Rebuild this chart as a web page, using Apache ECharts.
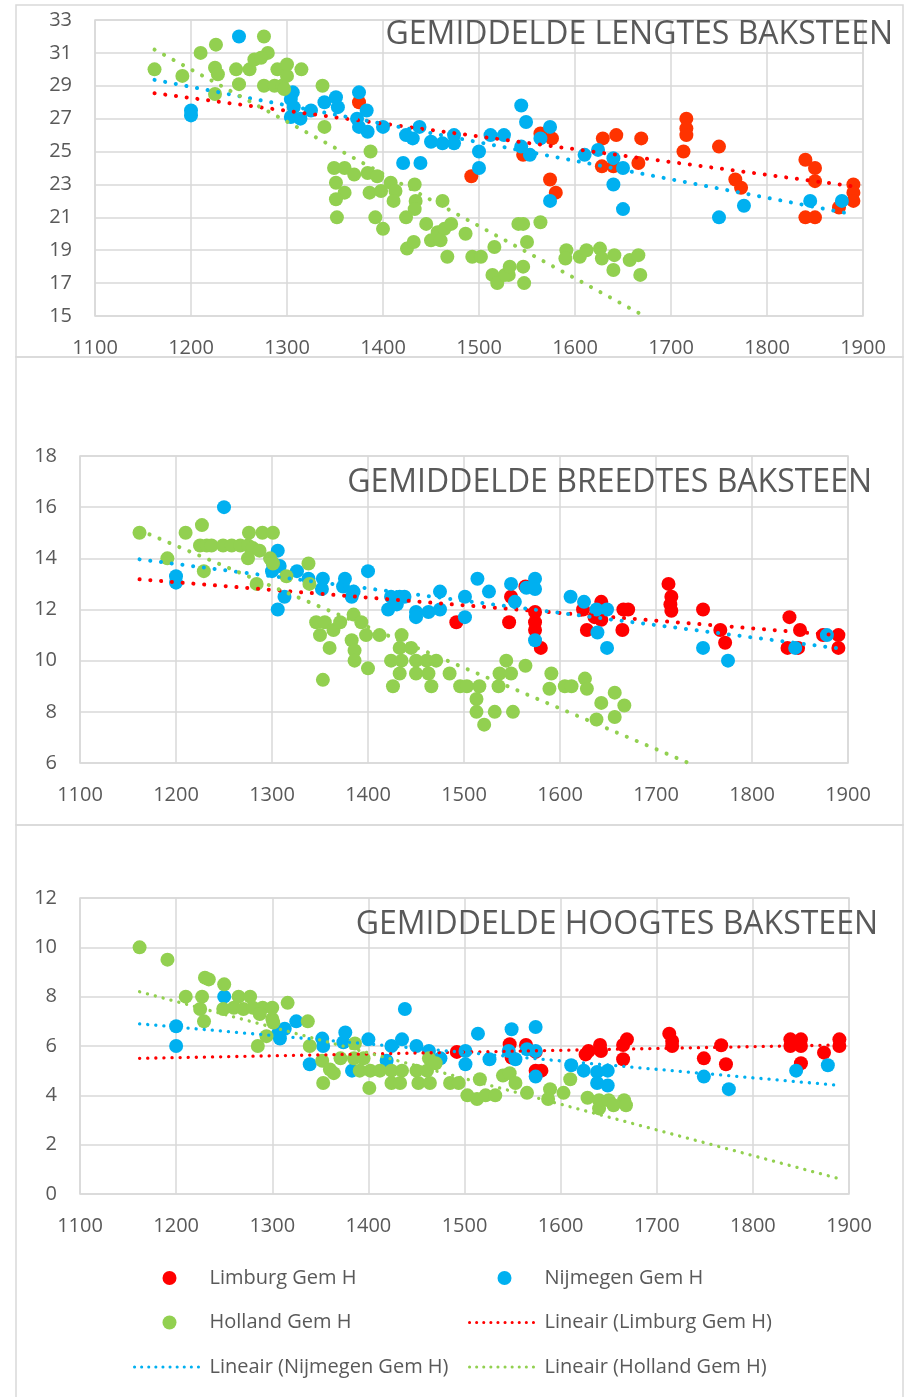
<!DOCTYPE html>
<html>
<head>
<meta charset="utf-8">
<script src="https://cdn.jsdelivr.net/npm/echarts@6/dist/echarts.min.js"></script>
<style>
  html, body { margin: 0; padding: 0; background: #ffffff; }
  #chart { width: 908px; height: 1397px; }
</style>
</head>
<body>
<div id="chart"></div>
<script>
// ---- Axis ticks ----
const jaarTicks = [1100, 1200, 1300, 1400, 1500, 1600, 1700, 1800, 1900];
const lengteTicks = [15, 17, 19, 21, 23, 25, 27, 29, 31, 33];
const breedteTicks = [6, 8, 10, 12, 14, 16, 18];
const hoogteTicks = [0, 2, 4, 6, 8, 10, 12];

// ---- Titles ----
const titelLengte = 'GEMIDDELDE LENGTES BAKSTEEN';
const titelBreedte = 'GEMIDDELDE BREEDTES BAKSTEEN';
const titelHoogte = 'GEMIDDELDE HOOGTES BAKSTEEN';

// ---- Series names ----
const naamLimburg = 'Limburg Gem H';
const naamNijmegen = 'Nijmegen Gem H';
const naamHolland = 'Holland Gem H';
const naamTrendLimburg = 'Lineair (Limburg Gem H)';
const naamTrendNijmegen = 'Lineair (Nijmegen Gem H)';
const naamTrendHolland = 'Lineair (Holland Gem H)';

// ---- Lengtes [jaar, cm] ----
const lengteLimburg = [[1375,28.0],[1492,23.5],[1546,24.8],[1564,26.1],[1576,25.8],[1574,23.3],[1580,22.5],[1629,25.8],[1643,26.0],[1669,25.8],[1628,24.1],[1640,24.1],[1666,24.3],[1716,27.0],[1716,26.4],[1716,26.0],[1713,25.0],[1750,25.3],[1767,23.3],[1773,22.8],[1840,24.5],[1850,24.0],[1850,23.2],[1840,21.0],[1850,21.0],[1875,21.6],[1890,23.0],[1890,22.5],[1890,22.0]];
const lengteNijmegen = [[1250,32.0],[1200,27.5],[1200,27.2],[1306,28.6],[1304,28.2],[1307,27.7],[1304,27.1],[1314,27.0],[1325,27.5],[1339,28.0],[1351,28.3],[1353,27.7],[1375,28.6],[1383,27.5],[1373,27.0],[1375,26.5],[1384,26.2],[1400,26.5],[1424,26.0],[1431,25.8],[1438,26.5],[1450,25.6],[1462,25.5],[1474,26.0],[1474,25.5],[1421,24.3],[1439,24.3],[1500,25.0],[1500,24.0],[1512,26.0],[1526,26.0],[1544,27.8],[1549,26.8],[1574,26.5],[1564,25.8],[1544,25.3],[1553,24.8],[1610,24.8],[1624,25.1],[1640,24.6],[1650,24.0],[1640,23.0],[1650,21.5],[1574,22.0],[1750,21.0],[1776,21.7],[1845,22.0],[1878,22.0]];
const lengteHolland = [[1162,30.0],[1210,31.0],[1226,31.5],[1276,32.0],[1280,31.0],[1191,29.6],[1225,30.1],[1228,29.7],[1247,30.0],[1250,29.1],[1261,30.0],[1266,30.6],[1273,30.7],[1290,30.0],[1300,30.3],[1315,30.0],[1276,29.0],[1287,29.0],[1295,29.0],[1300,29.6],[1297,28.8],[1225,28.5],[1337,29.0],[1339,26.5],[1387,25.0],[1349,24.0],[1360,24.0],[1370,23.6],[1384,23.7],[1394,23.5],[1351,23.1],[1360,22.5],[1351,22.1],[1352,21.0],[1386,22.5],[1398,22.6],[1408,23.1],[1413,22.6],[1411,22.0],[1392,21.0],[1400,20.3],[1433,23.0],[1434,22.0],[1433,21.5],[1424,21.0],[1462,22.0],[1445,20.6],[1457,20.1],[1464,20.3],[1471,20.6],[1450,19.6],[1460,19.6],[1425,19.1],[1432,19.5],[1486,20.0],[1467,18.6],[1493,18.6],[1502,18.6],[1516,19.2],[1514,17.5],[1519,17.0],[1531,17.5],[1527,17.5],[1532,18.0],[1541,20.6],[1546,20.6],[1564,20.7],[1550,19.5],[1546,18.0],[1547,17.0],[1591,19.0],[1590,18.5],[1605,18.6],[1612,19.0],[1626,19.1],[1628,18.5],[1641,18.7],[1640,17.8],[1657,18.4],[1666,18.7],[1668,17.5]];
const lengteTrendLimburg = [[1162,28.55],[1888,22.9]];
const lengteTrendNijmegen = [[1162,29.36],[1888,21.2]];
const lengteTrendHolland = [[1162,31.2],[1669,15.1]];

// ---- Breedtes [jaar, cm] ----
const breedteLimburg = [[1492,11.5],[1547,11.5],[1549,12.5],[1564,12.9],[1574,11.9],[1574,11.5],[1574,11.2],[1580,10.5],[1624,12.0],[1628,11.2],[1643,12.3],[1636,11.7],[1643,11.6],[1666,12.0],[1671,12.0],[1665,11.2],[1713,13.0],[1716,12.5],[1715,12.2],[1716,11.95],[1749,12.0],[1767,11.2],[1772,10.7],[1839,11.7],[1850,11.2],[1837,10.5],[1848,10.5],[1874,11.0],[1890,11.0],[1890,10.5]];
const breedteNijmegen = [[1250,16.0],[1200,13.3],[1200,13.05],[1306,14.3],[1301,13.8],[1308,13.7],[1300,13.5],[1313,12.5],[1306,12.0],[1326,13.5],[1338,13.2],[1353,13.2],[1352,12.8],[1376,13.2],[1374,12.9],[1385,12.7],[1383,12.5],[1400,13.5],[1424,12.5],[1433,12.5],[1438,12.5],[1421,12.0],[1430,12.2],[1450,11.9],[1450,11.7],[1463,11.9],[1475,12.0],[1475,12.7],[1501,12.5],[1501,11.7],[1514,13.2],[1526,12.7],[1549,13.0],[1553,12.3],[1574,13.2],[1574,12.8],[1565,12.85],[1574,10.8],[1611,12.5],[1625,12.3],[1638,12.0],[1649,12.0],[1639,11.1],[1649,10.5],[1749,10.5],[1775,10.0],[1845,10.5],[1878,11.0]];
const breedteHolland = [[1162,15.0],[1210,15.0],[1227,15.3],[1191,14.0],[1225,14.5],[1232,14.5],[1237,14.5],[1249,14.5],[1258,14.5],[1267,14.5],[1276,15.0],[1290,15.0],[1301,15.0],[1275,14.5],[1280,14.4],[1287,14.3],[1275,14.0],[1298,14.0],[1301,13.8],[1229,13.5],[1284,13.0],[1315,13.3],[1338,13.8],[1339,13.0],[1346,11.5],[1355,11.5],[1350,11.0],[1364,11.2],[1371,11.5],[1385,11.8],[1393,11.5],[1360,10.5],[1383,10.8],[1386,10.4],[1386,10.0],[1400,9.7],[1353,9.25],[1398,11.0],[1412,11.0],[1435,11.0],[1433,10.5],[1445,10.5],[1424,10.0],[1435,10.0],[1450,10.0],[1461,10.0],[1471,10.0],[1433,9.5],[1450,9.5],[1463,9.5],[1426,9.0],[1466,9.0],[1485,9.5],[1496,9.0],[1503,9.0],[1516,9.0],[1513,8.5],[1513,8.0],[1521,7.5],[1532,8.0],[1544,10.0],[1537,9.5],[1549,9.5],[1564,9.8],[1536,9.0],[1551,8.0],[1591,9.5],[1589,8.9],[1605,9.0],[1612,9.0],[1626,9.3],[1628,8.9],[1643,8.35],[1638,7.7],[1657,8.75],[1667,8.25],[1657,7.8]];
const breedteTrendLimburg = [[1162,13.18],[1888,11.0]];
const breedteTrendNijmegen = [[1162,13.96],[1888,10.49]];
const breedteTrendHolland = [[1162,15.1],[1734,6.0]];

// ---- Hoogtes [jaar, cm] ----
const hoogteLimburg = [[1492,5.76],[1547,6.07],[1549,5.53],[1564,6.04],[1574,5.76],[1574,5.0],[1580,5.0],[1626,5.66],[1629,5.8],[1641,6.04],[1642,5.8],[1665,6.04],[1665,5.46],[1669,6.27],[1713,6.5],[1716,6.2],[1716,6.0],[1749,5.5],[1767,6.03],[1772,5.26],[1839,6.27],[1850,6.27],[1839,6.0],[1850,6.0],[1850,5.3],[1874,5.73],[1890,6.27],[1890,6.0]];
const hoogteNijmegen = [[1250,8.0],[1200,6.8],[1200,6.0],[1306,6.5],[1308,6.3],[1313,6.7],[1325,7.0],[1339,5.26],[1352,6.3],[1353,6.0],[1376,6.55],[1374,6.15],[1383,5.0],[1400,6.27],[1438,7.5],[1424,6.0],[1435,6.27],[1419,5.4],[1450,6.0],[1463,5.8],[1475,5.5],[1501,5.8],[1501,5.26],[1514,6.5],[1526,5.46],[1549,6.68],[1546,5.8],[1553,5.46],[1565,5.87],[1574,5.8],[1574,6.77],[1574,4.76],[1611,5.22],[1624,5.0],[1638,4.95],[1649,5.0],[1638,4.5],[1649,4.4],[1749,4.76],[1775,4.25],[1845,5.0],[1878,5.22]];
const hoogteHolland = [[1162,10.0],[1191,9.5],[1230,8.77],[1234,8.7],[1250,8.5],[1210,8.0],[1227,8.0],[1225,7.5],[1229,7.0],[1265,8.0],[1277,8.0],[1249,7.5],[1260,7.55],[1270,7.5],[1280,7.55],[1290,7.55],[1300,7.55],[1287,7.3],[1300,7.1],[1301,6.95],[1316,7.75],[1337,7.0],[1285,6.0],[1294,6.4],[1339,6.0],[1352,5.4],[1360,5.05],[1353,4.5],[1364,4.9],[1386,6.1],[1371,5.5],[1385,5.5],[1395,5.5],[1391,5.0],[1402,5.0],[1412,5.0],[1401,4.3],[1424,5.0],[1435,5.0],[1424,4.5],[1433,4.5],[1450,5.0],[1461,5.0],[1452,4.5],[1464,4.5],[1463,5.5],[1470,5.3],[1485,4.5],[1494,4.5],[1516,4.65],[1503,4.0],[1513,3.85],[1522,4.0],[1532,4.0],[1540,4.8],[1547,4.9],[1553,4.5],[1565,4.1],[1589,4.25],[1587,3.85],[1603,4.1],[1610,4.65],[1628,3.9],[1640,3.47],[1640,3.8],[1650,3.8],[1666,3.8],[1655,3.6],[1668,3.6]];
const hoogteTrendLimburg = [[1162,5.5],[1888,6.04]];
const hoogteTrendNijmegen = [[1162,6.9],[1888,4.41]];
const hoogteTrendHolland = [[1162,8.2],[1888,0.64]];

// ---- Styling ----
const FONT = '"Open Sans", "Liberation Sans", sans-serif';
const TEXT = '#595959';
const GRID = '#D9D9D9';
const ROOD = '#FF0000';
const ROOD_LENGTE = '#FF3300';
const BLAUW = '#00B0F0';
const GROEN = '#92D050';

// Plain year/number labels, without thousands separators
const labelTekst = (v) => String(v);

function xAs(gridIndex) {
  return {
    type: 'value', gridIndex,
    min: jaarTicks[0], max: jaarTicks[jaarTicks.length - 1], interval: 100,
    axisLine: { show: false },
    axisTick: { show: false, customValues: jaarTicks },
    splitLine: { show: true, lineStyle: { color: GRID, width: 1.5 } },
    axisLabel: { customValues: jaarTicks, formatter: labelTekst, color: TEXT, fontSize: 20, fontFamily: FONT, margin: 22 }
  };
}
function yAs(gridIndex, ticks) {
  return {
    type: 'value', gridIndex,
    min: ticks[0], max: ticks[ticks.length - 1],
    axisLine: { show: false },
    axisTick: { show: false, customValues: ticks },
    splitLine: { show: true, lineStyle: { color: GRID, width: 1.5 } },
    axisLabel: { customValues: ticks, formatter: labelTekst, color: TEXT, fontSize: 20, fontFamily: FONT, margin: 23 }
  };
}
function punten(name, data, color, idx) {
  return {
    type: 'scatter', name, data, xAxisIndex: idx, yAxisIndex: idx,
    symbol: 'circle', symbolSize: 14, itemStyle: { color, opacity: 1 }, z: 2
  };
}
function trend(name, data, color, idx, width, gap) {
  return {
    type: 'line', name, data, xAxisIndex: idx, yAxisIndex: idx,
    symbol: 'none', silent: true, z: 3,
    lineStyle: { color, width, type: [0.1, gap], cap: 'round' }
  };
}
function titel(text, right, top) {
  return {
    text, right, top, padding: 0,
    textStyle: { color: TEXT, fontSize: 32, fontWeight: 'normal', fontFamily: FONT, lineHeight: 40 }
  };
}
function kader(y, h) {
  return { type: 'rect', shape: { x: 16, y, width: 887, height: h }, style: { fill: 'none', stroke: GRID, lineWidth: 1.5 }, silent: true };
}

const legendaTekst = { color: TEXT, fontSize: 20, fontFamily: FONT, lineHeight: 22 };
const legendaLijn = { width: 3, type: [0.1, 7], cap: 'round' };

const option = {
  backgroundColor: '#ffffff',
  animation: false,
  title: [
    titel(titelLengte, 15, 15),
    titel(titelBreedte, 36, 463),
    titel(titelHoogte, 30, 905)
  ],
  graphic: [kader(5, 352), kader(357, 468), kader(825, 600)],
  grid: [
    { left: 95, top: 20, width: 768, height: 296, show: true, borderColor: GRID, borderWidth: 1.5, backgroundColor: 'transparent' },
    { left: 80, top: 456, width: 768, height: 307, show: true, borderColor: GRID, borderWidth: 1.5, backgroundColor: 'transparent' },
    { left: 80, top: 898, width: 769, height: 296, show: true, borderColor: GRID, borderWidth: 1.5, backgroundColor: 'transparent' }
  ],
  xAxis: [xAs(0), xAs(1), xAs(2)],
  yAxis: [yAs(0, lengteTicks), yAs(1, breedteTicks), yAs(2, hoogteTicks)],
  legend: [
    {
      orient: 'vertical', left: 133, top: 1267, padding: 0,
      itemWidth: 70, itemHeight: 14, itemGap: 22.5,
      textStyle: legendaTekst, lineStyle: legendaLijn,
      data: [
        { name: naamLimburg, icon: 'circle' },
        { name: naamHolland, icon: 'circle' },
        { name: naamTrendNijmegen, itemStyle: { opacity: 0 } }
      ]
    },
    {
      orient: 'vertical', left: 468, top: 1267, padding: 0,
      itemWidth: 70, itemHeight: 14, itemGap: 22.5,
      textStyle: legendaTekst, lineStyle: legendaLijn,
      data: [
        { name: naamNijmegen, icon: 'circle' },
        { name: naamTrendLimburg, itemStyle: { opacity: 0 } },
        { name: naamTrendHolland, itemStyle: { opacity: 0 } }
      ]
    }
  ],
  series: [
    // Hoogtes (first, so the legend takes its colours from these)
    punten(naamLimburg, hoogteLimburg, ROOD, 2),
    punten(naamNijmegen, hoogteNijmegen, BLAUW, 2),
    punten(naamHolland, hoogteHolland, GROEN, 2),
    trend(naamTrendLimburg, hoogteTrendLimburg, ROOD, 2, 3.3, 8),
    trend(naamTrendNijmegen, hoogteTrendNijmegen, BLAUW, 2, 3.3, 8),
    trend(naamTrendHolland, hoogteTrendHolland, GROEN, 2, 3.3, 8),
    // Lengtes
    punten(naamLimburg, lengteLimburg, ROOD_LENGTE, 0),
    punten(naamNijmegen, lengteNijmegen, BLAUW, 0),
    punten(naamHolland, lengteHolland, GROEN, 0),
    trend(naamTrendLimburg, lengteTrendLimburg, ROOD, 0, 4, 10.7),
    trend(naamTrendNijmegen, lengteTrendNijmegen, BLAUW, 0, 4, 10.7),
    trend(naamTrendHolland, lengteTrendHolland, GROEN, 0, 4, 10.7),
    // Breedtes
    punten(naamLimburg, breedteLimburg, ROOD, 1),
    punten(naamNijmegen, breedteNijmegen, BLAUW, 1),
    punten(naamHolland, breedteHolland, GROEN, 1),
    trend(naamTrendLimburg, breedteTrendLimburg, ROOD, 1, 4, 10.7),
    trend(naamTrendNijmegen, breedteTrendNijmegen, BLAUW, 1, 4, 10.7),
    trend(naamTrendHolland, breedteTrendHolland, GROEN, 1, 4, 10.7)
  ]
};

const chart = echarts.init(document.getElementById('chart'), null, { renderer: 'canvas' });
chart.setOption(option);
</script>
</body>
</html>
